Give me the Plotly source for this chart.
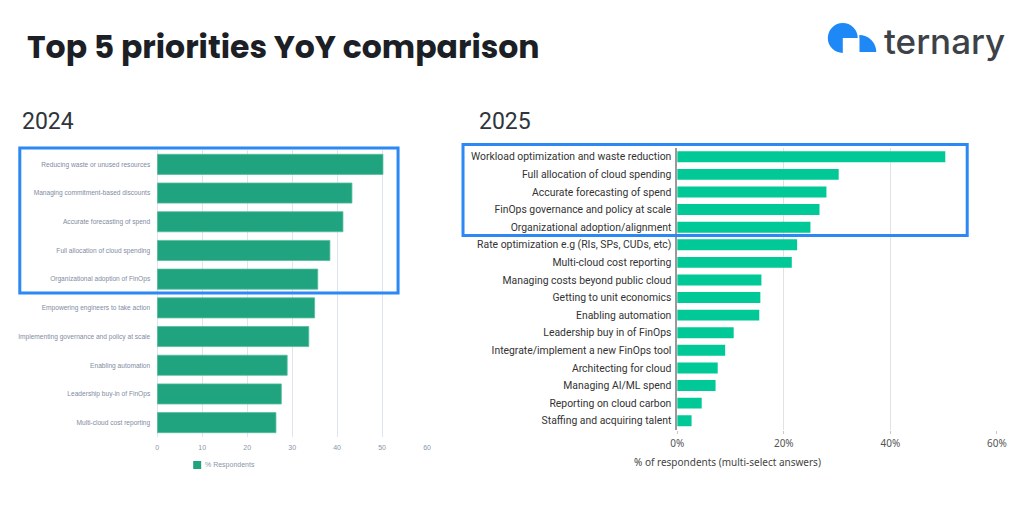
import plotly.graph_objects as go

W, H = 1024, 514

# The photographed page comes out slightly compressed horizontally
# (about x_out = 0.984 * x + 6.7); positions below are given in target
# pixels and converted so that they land where the reference has them.
SX, OX = 0.984, 6.7


def px(x):
    return ((x - OX) / SX) / W


def py(y):
    return 1 - y / H


# ---------------- data ----------------
cats_2024 = [
    "Reducing waste or unused resources",
    "Managing commitment-based discounts",
    "Accurate forecasting of spend",
    "Full allocation of cloud spending",
    "Organizational adoption of FinOps",
    "Empowering engineers to take action",
    "Implementing governance and policy at scale",
    "Enabling automation",
    "Leadership buy-in of FinOps",
    "Multi-cloud cost reporting",
]
vals_2024 = [50.2, 43.3, 41.3, 38.4, 35.7, 35.0, 33.7, 28.9, 27.6, 26.4]
ticks_2024 = [0, 10, 20, 30, 40, 50, 60]

cats_2025 = [
    "Workload optimization and waste reduction",
    "Full allocation of cloud spending",
    "Accurate forecasting of spend",
    "FinOps governance and policy at scale",
    "Organizational adoption/alignment",
    "Rate optimization e.g (RIs, SPs, CUDs, etc)",
    "Multi-cloud cost reporting",
    "Managing costs beyond public cloud",
    "Getting to unit economics",
    "Enabling automation",
    "Leadership buy in of FinOps",
    "Integrate/implement a new FinOps tool",
    "Architecting for cloud",
    "Managing AI/ML spend",
    "Reporting on cloud carbon",
    "Staffing and acquiring talent",
]
vals_2025 = [50.3, 30.3, 28.0, 26.7, 25.0, 22.5, 21.5, 15.8, 15.6, 15.4,
             10.6, 9.0, 7.6, 7.2, 4.6, 2.7]
ticks_2025 = [0, 20, 40, 60]
ticktext_2025 = ["0%", "20%", "40%", "60%"]

GREEN_24 = "#1fa47f"
GREEN_25 = "#00c896"
BLUE = "#2b88f5"

fig = go.Figure()
fig.add_trace(go.Bar(
    x=vals_2024, y=cats_2024, orientation="h", xaxis="x", yaxis="y",
    marker=dict(color=GREEN_24, line=dict(color="#55bd9c", width=0.8)),
    width=0.7, name="% Respondents", showlegend=False, hoverinfo="x+y",
))
fig.add_trace(go.Bar(
    x=vals_2025, y=cats_2025, orientation="h", xaxis="x2", yaxis="y2",
    marker=dict(color=GREEN_25, line=dict(width=0)),
    width=0.62, name="2025", showlegend=False, hoverinfo="x+y",
))

fig.update_layout(
    width=W, height=H,
    margin=dict(l=0, r=0, t=0, b=0),
    paper_bgcolor="white", plot_bgcolor="white",
    xaxis=dict(
        domain=[px(157), px(427)], range=[0, 60], anchor="y",
        tickvals=ticks_2024, showgrid=True, gridcolor="#dfe5ee", gridwidth=1,
        zeroline=True, zerolinecolor="#dfe5ee", zerolinewidth=1,
        showline=False, ticks="outside", ticklen=4, tickcolor="rgba(0,0,0,0)",
        tickfont=dict(family="Liberation Sans, Arial", size=7, color="#8a96a8"),
        fixedrange=True,
    ),
    yaxis=dict(
        domain=[py(437), py(150)], anchor="x", autorange="reversed",
        showgrid=False, zeroline=False, showline=False, ticks="",
        ticklabelstandoff=6,
        tickfont=dict(family="Liberation Sans, Arial", size=6.6, color="#7f8ca2"),
        fixedrange=True,
    ),
    xaxis2=dict(
        domain=[px(677.3), px(997.3)], range=[0, 60], anchor="y2",
        tickvals=ticks_2025, ticktext=ticktext_2025,
        showgrid=True, gridcolor="#e2e2e2", gridwidth=1,
        zeroline=False, showline=False,
        ticks="outside", ticklen=3, tickcolor="#c8c8c8",
        ticklabelstandoff=1,
        tickfont=dict(family="Noto Sans, Open Sans", size=10, color="#555555"),
        fixedrange=True,
    ),
    yaxis2=dict(
        domain=[py(429.5), py(148)], anchor="x2", autorange="reversed",
        showgrid=False, zeroline=False, showline=True, linecolor="#9a9a9a",
        linewidth=1.5, ticks="", ticklabelstandoff=2,
        tickfont=dict(family="Roboto, Arial", size=10.4, color="#333333"),
        fixedrange=True,
    ),
)

annotations = [
    dict(text="Top 5 priorities YoY comparison", x=px(25), y=py(47),
         font=dict(family="Poppins, Inter, Open Sans", size=31.5, weight=700,
                   color="#1c1f26")),
    dict(text="2024", x=px(20), y=py(121),
         font=dict(family="Roboto, Arial", size=23, color="#30353c")),
    dict(text="2025", x=px(477), y=py(121),
         font=dict(family="Roboto, Arial", size=23, color="#30353c")),
    dict(text="ternary", x=px(882), y=py(41),
         font=dict(family="Inter, Lato", size=35, weight=500, color="#3d4248")),
    dict(text="% of respondents (multi-select answers)", x=px(632), y=py(462),
         font=dict(family="Noto Sans, Open Sans", size=10, color="#444444")),
    dict(text="% Respondents", x=px(203), y=py(465),
         font=dict(family="Liberation Sans, Arial", size=7, color="#8a96a8")),
]
for a in annotations:
    a.update(xref="paper", yref="paper", xanchor="left", yanchor="middle",
             showarrow=False)
fig.update_layout(annotations=annotations)

LOGO = "#1e88f7"
shapes = [
    # legend swatch
    dict(type="rect", x0=px(193), x1=px(201), y0=py(469), y1=py(461),
         fillcolor=GREEN_24, line=dict(width=0)),
    # highlight boxes
    dict(type="rect", x0=px(19.5), x1=px(398), y0=py(293), y1=py(148),
         fillcolor="rgba(0,0,0,0)", line=dict(color=BLUE, width=3)),
    dict(type="rect", x0=px(463), x1=px(967.5), y0=py(235.5), y1=py(144.5),
         fillcolor="rgba(0,0,0,0)", line=dict(color=BLUE, width=3)),
    # logo: small quarter circle
    dict(type="circle", x0=px(859.5 - 17), x1=px(859.5 + 17),
         y0=py(52 + 17), y1=py(52 - 17), fillcolor=LOGO, line=dict(width=0)),
    dict(type="rect", x0=px(838), x1=px(859.5), y0=py(75), y1=py(30),
         fillcolor="white", line=dict(width=0)),
    dict(type="rect", x0=px(838), x1=px(880), y0=py(75), y1=py(52),
         fillcolor="white", line=dict(width=0)),
    # logo: big three-quarter circle
    dict(type="circle", x0=px(843 - 15), x1=px(843 + 15),
         y0=py(38 + 15), y1=py(38 - 15), fillcolor=LOGO, line=dict(width=0)),
    dict(type="rect", x0=px(843), x1=px(859.5), y0=py(54), y1=py(38),
         fillcolor="white", line=dict(width=0)),
]
for s in shapes:
    s.update(xref="paper", yref="paper")
fig.update_layout(shapes=shapes)

fig.write_html(
    "out.html",
    config={"displayModeBar": False, "responsive": False},
    post_script=(
        "document.documentElement.style.margin='0';"
        "document.documentElement.style.overflow='hidden';"
        "document.body.style.margin='0';document.body.style.padding='0';"
        "document.body.style.overflow='hidden';"
    ),
)
